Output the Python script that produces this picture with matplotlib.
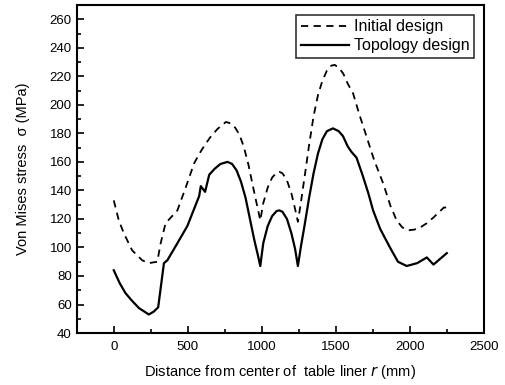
import numpy as np
import matplotlib.pyplot as plt
from matplotlib.ticker import MultipleLocator

plt.rcParams['font.family'] = ['Liberation Sans', 'DejaVu Sans']

# Initial design (dashed)
x_init = [0, 34, 68, 124, 192, 237, 294, 317, 350, 430, 486, 543, 580, 610, 650, 700, 758, 790,
          820, 850, 880, 910, 940, 965, 990, 1010, 1040, 1070, 1100, 1119, 1140, 1170, 1200,
          1225, 1244, 1265, 1290, 1320, 1350, 1380, 1410, 1440, 1470, 1493, 1520, 1550, 1580,
          1617, 1660, 1707, 1760, 1820, 1870, 1911, 1950, 1990, 2030, 2070, 2115, 2160, 2200,
          2230, 2250]
y_init = [133, 119, 110, 98, 91, 89, 90, 103, 117, 126, 142, 159, 166, 171, 177, 183, 188, 187,
          184, 179, 170, 158, 143, 131, 119, 131, 142, 149, 152.5, 153, 152, 147, 138,
          127, 118, 132, 150, 172, 192, 207, 217, 224, 227.5, 228, 226, 222, 215,
          208, 193, 178, 161, 145, 129, 119, 114, 112, 112.5, 114, 117, 121, 125,
          128, 128]

# Topology design (solid)
x_topo = [0, 40, 79, 120, 170, 237, 270, 300, 339, 362, 430, 497, 577, 588, 617, 645, 680, 720,
          769, 800, 830, 860, 890, 920, 950, 975, 990, 1010, 1040, 1070, 1100, 1119, 1140,
          1170, 1200, 1225, 1244, 1265, 1290, 1320, 1350, 1380, 1410, 1440, 1481, 1520, 1549,
          1580, 1606, 1640, 1680, 1720, 1752, 1800, 1866, 1920, 1979, 2050, 2115, 2160, 2250]
y_topo = [84, 75, 68, 63, 57.5, 53, 55, 58, 89, 91, 103, 115, 136, 143, 139, 151, 155, 158.5,
          160, 158.5, 154, 146, 135, 120, 105, 94, 87, 103, 115, 122, 125.5, 126, 125,
          120, 110, 99, 87, 101, 116, 135, 152, 166, 176, 181.5, 183.5, 181.5, 178,
          171, 167, 163, 151, 138, 126, 113, 100, 90, 87, 89, 93, 88, 96]

fig = plt.figure(figsize=(5.05, 3.85), dpi=100)
ax = fig.add_axes([0.152, 0.135, 0.806, 0.852])

ax.plot(x_init, y_init, color='black', lw=1.3, linestyle=(0, (4, 3)), label='Initial design')
ax.plot(x_topo, y_topo, color='black', lw=1.6, label='Topology design')

ax.set_xlim(-250, 2500)
ax.set_ylim(40, 270)
ax.xaxis.set_major_locator(MultipleLocator(500))
ax.xaxis.set_minor_locator(MultipleLocator(250))
ax.yaxis.set_major_locator(MultipleLocator(20))
ax.yaxis.set_minor_locator(MultipleLocator(10))
ax.tick_params(which='both', direction='in', top=False, right=False, labelsize=9.5, width=1.2)
ax.tick_params(which='major', length=5)
ax.tick_params(which='minor', length=3)
ax.tick_params(axis='x', pad=6)
for s in ax.spines.values():
    s.set_linewidth(1.5)

ax.set_xlabel('Distance from center of  table liner $\\it{r}$ (mm)', fontsize=10.5, labelpad=7)
ax.set_ylabel('Von Mises stress  σ (MPa)', fontsize=10.5, labelpad=14)

leg = ax.legend(loc='upper right', fontsize=11.5, frameon=True, fancybox=False,
                handlelength=3.0, handletextpad=0.3, borderpad=0.3, labelspacing=0.25,
                borderaxespad=0.6)
leg.get_frame().set_edgecolor('black')
leg.get_frame().set_linewidth(1.2)

fig.savefig('out.png', dpi=100)
